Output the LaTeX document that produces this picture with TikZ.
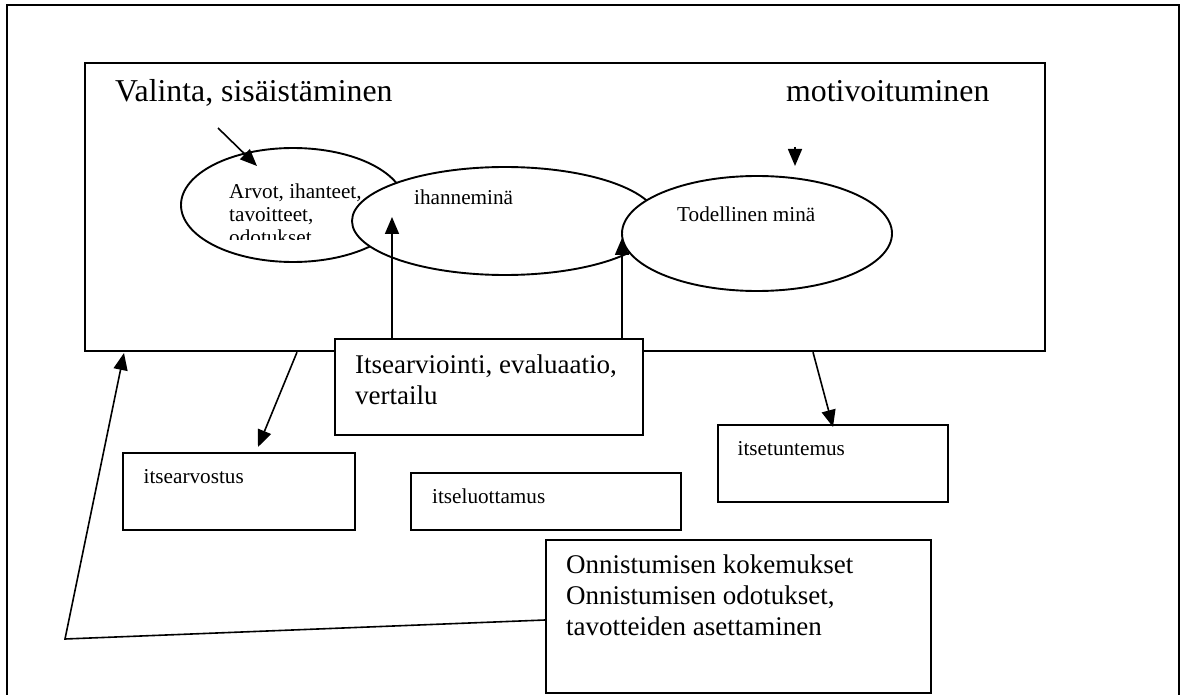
\documentclass[tikz,border=0pt]{standalone}
\usepackage{fontspec}
\setmainfont{Liberation Serif}
\usetikzlibrary{arrows.meta,shapes.geometric,calc}
\begin{document}
\begin{tikzpicture}[x=1pt,y=-1pt,
  frame/.style={line width=1.8pt},
  boxnode/.style={draw, fill=white, line width=1.9pt, anchor=north west, inner sep=0pt},
  mainbox/.style={boxnode, line width=2.2pt},
  oval/.style={draw, fill=white, ellipse, line width=1.9pt, inner sep=0pt},
  arr/.style={line width=1.6pt, -{Triangle[length=17pt,width=14pt]}},
  lbl/.style={anchor=base west, inner sep=0pt},
  bigtxt/.style={lbl, font=\fontsize{31.8}{36}\selectfont},
  midtxt/.style={lbl, font=\fontsize{27}{31}\selectfont},
  smalltxt/.style={lbl, font=\fontsize{21.2}{23}\selectfont}]
\useasboundingbox (0,0) rectangle (1181,695);
\fill[white] (0,0) rectangle (1181,695);
% outer frame (open at the bottom)
\draw[frame] (7,695) -- (7,5) -- (1179,5) -- (1179,695);
% main box
\node[mainbox, minimum width=960pt, minimum height=288pt] (main) at (84,62) {};
% ellipses
\node[oval, minimum width=224pt, minimum height=114pt] (e1) at (293,205) {};
\node[oval, minimum width=306pt, minimum height=108pt] (e2) at (505,221) {};
\node[oval, minimum width=270pt, minimum height=115pt] (e3) at (757,233.5) {};
% titles
\node[bigtxt] (valinta) at (115,102) {Valinta, sisäistäminen};
\node[bigtxt] (motiv) at (786,102) {motivoituminen};
% ellipse texts
\begin{scope}
\clip (200,170) rectangle (400,240);
\node[smalltxt] (arv1) at (229,199) {Arvot, ihanteet,};
\node[smalltxt] (arv2) at (229,222) {tavoitteet,};
\node[smalltxt] (arv3) at (229,245) {odotukset};
\end{scope}
\node[smalltxt] (ihanne) at (414,205) {ihanneminä};
\node[smalltxt] (todel) at (677,222) {Todellinen minä};
% boxes
\node[boxnode, minimum width=308pt, minimum height=96pt] (eval) at (334,338) {};
\node[midtxt] (ev1) at (355,373) {Itsearviointi, evaluaatio,};
\node[midtxt] (ev2) at (355,404) {vertailu};
\node[boxnode, minimum width=232pt, minimum height=77pt] (arvostus) at (122,452) {};
\node[smalltxt] (arvostusT) at (143.5,483) {itsearvostus};
\node[boxnode, minimum width=270pt, minimum height=57pt] (luott) at (410,472) {};
\node[smalltxt] (luottT) at (432,503) {itseluottamus};
\node[boxnode, minimum width=230pt, minimum height=77pt] (tunt) at (717,424) {};
\node[smalltxt] (tuntT) at (737.5,455) {itsetuntemus};
\node[boxnode, minimum width=385pt, minimum height=153pt] (onni) at (545,539) {};
\node[midtxt] (on1) at (566,573) {Onnistumisen kokemukset};
\node[midtxt] (on2) at (566,604) {Onnistumisen odotukset,};
\node[midtxt] (on3) at (566,635) {tavotteiden asettaminen};
% connector points
\coordinate (a1s) at (218,128);
\coordinate (a1e) at (257,166);
\coordinate (a2s) at (795,147);
\coordinate (a2e) at (795,166);
\coordinate (a3s) at ($(eval.north west)+(58,0)$);
\coordinate (a3e) at (392,217);
\coordinate (a4s) at ($(eval.north west)+(288,0)$);
\coordinate (a4e) at (622,238);
\coordinate (a5s) at ($(main.south west)+(213,0)$);
\coordinate (a5e) at (258,447);
\coordinate (a6s) at ($(main.south west)+(729,0)$);
\coordinate (a6e) at (833,427);
\coordinate (a7s) at ($(onni.north west)+(0,81)$);
\coordinate (a7m) at (65,639);
\coordinate (a7e) at (124,353);
% connectors
\draw[arr] (a1s) -- (a1e);
\draw[arr] (a2s) -- (a2e);
\draw[arr] (a3s) -- (a3e);
\draw[arr] (a4s) -- (a4e);
\draw[arr] (a5s) -- (a5e);
\draw[arr] (a6s) -- (a6e);
\draw[arr, line join=miter] (a7s) -- (a7m) -- (a7e);
\end{tikzpicture}
\end{document}
